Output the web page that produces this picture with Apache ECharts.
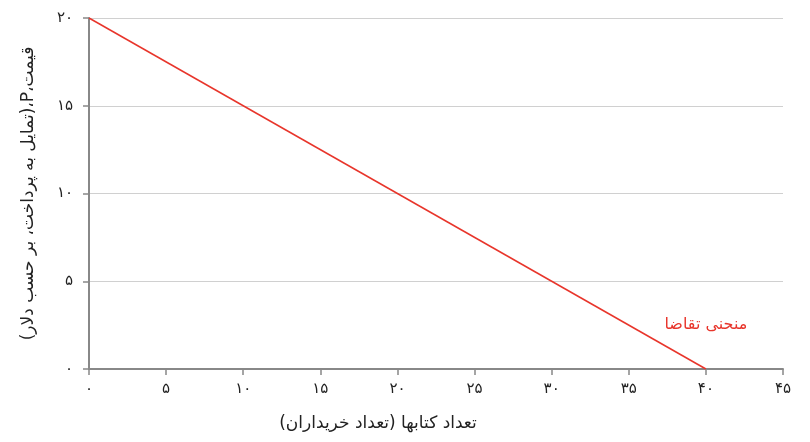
<!DOCTYPE html>
<html><head><meta charset="utf-8">
<script src="https://cdn.jsdelivr.net/npm/echarts@6/dist/echarts.min.js"></script>
<style>html,body{margin:0;padding:0;background:#fff}#c{width:810px;height:442px}</style>
</head><body><div id="c"></div>
<script>
const quantities = [0, 40];
const prices = [20, 0];
const curveLabel = 'منحنی تقاضا';
const labelAt = [40, 2.5];
const xTitle = 'تعداد کتابها (تعداد خریداران)';
const yTitle = 'قیمت،P،(تمایل به پرداخت، بر حسب دلار)';
const rtl = s => '\u202B' + s + '\u202C';
const fa = n => String(n).replace(/\d/g, d => '۰۱۲۳۴۵۶۷۸۹'[d]);
const font = 'DejaVu Sans';
const chart = echarts.init(document.getElementById('c'));
chart.setOption({
  animation: false,
  grid: {left: 89, right: 27, top: 18, bottom: 73},
  xAxis: {
    type: 'value', min: 0, max: 45, interval: 5,
    name: rtl(xTitle), nameLocation: 'middle', nameGap: 46,
    nameTextStyle: {fontFamily: font, fontSize: 17, color: '#222', padding: [0, 116, 0, 0]},
    axisLine: {lineStyle: {color: '#888', width: 2}},
    axisTick: {show: true, length: 6, lineStyle: {color: '#888', width: 1.5}},
    axisLabel: {formatter: fa, fontFamily: font, fontSize: 15, color: '#222', margin: 13},
    splitLine: {show: false}
  },
  yAxis: {
    type: 'value', min: 0, max: 20, interval: 5,
    name: rtl(yTitle), nameLocation: 'middle', nameGap: 52, nameRotate: 90,
    nameTextStyle: {fontFamily: font, fontSize: 17, color: '#222'},
    axisLine: {show: true, lineStyle: {color: '#888', width: 2}},
    axisTick: {show: true, length: 6, lineStyle: {color: '#888', width: 1.5}},
    axisLabel: {formatter: fa, fontFamily: font, fontSize: 15, color: '#222', margin: 16},
    splitLine: {lineStyle: {color: '#d0d0d0', width: 1}}
  },
  series: [{
    type: 'line',
    data: quantities.map((q, i) => [q, prices[i]]),
    showSymbol: false,
    lineStyle: {color: '#e8352b', width: 1.5},
    markPoint: {
      symbolSize: 0,
      data: [{coord: labelAt}],
      label: {show: true, formatter: rtl(curveLabel), color: '#e8352b', fontFamily: font, fontSize: 16}
    }
  }]
});
</script></body></html>
